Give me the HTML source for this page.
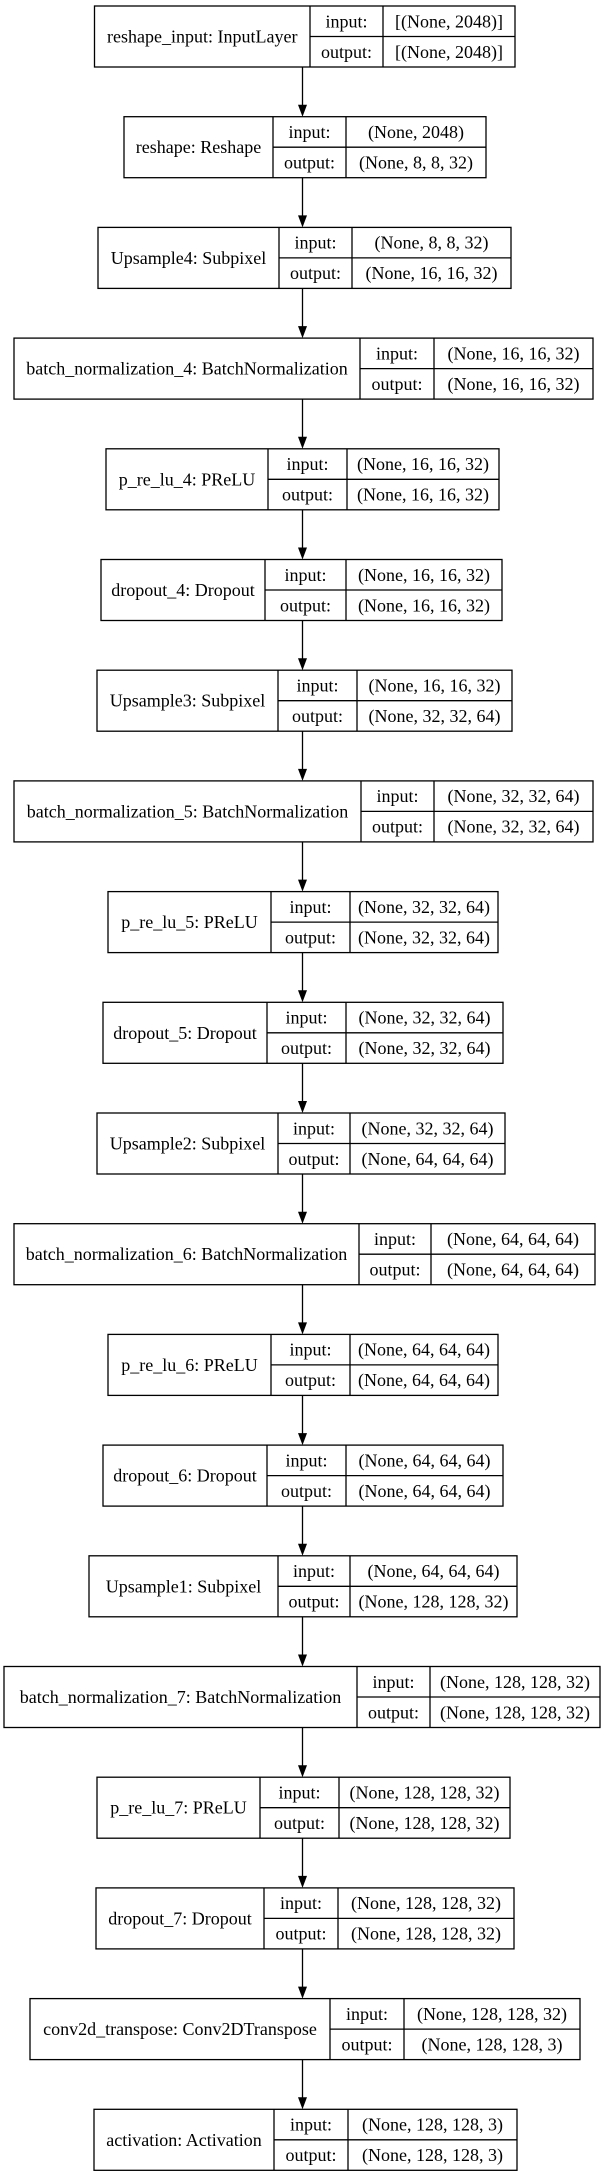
<!DOCTYPE html>
<html><head><meta charset="utf-8"><style>
html,body{margin:0;padding:0;background:#fff;}
svg{display:block;}
text{font-family:"Liberation Serif",serif;font-size:18px;fill:#000;}
</style></head><body>
<svg id="s" width="605" height="2176" xmlns="http://www.w3.org/2000/svg"></svg>
<script>
var boxes=[
["reshape_input: InputLayer","[(None, 2048)]","[(None, 2048)]",94.5,310,383,515],
["reshape: Reshape","(None, 2048)","(None, 8, 8, 32)",124,273,346,486],
["Upsample4: Subpixel","(None, 8, 8, 32)","(None, 16, 16, 32)",98,279,352,511],
["batch_normalization_4: BatchNormalization","(None, 16, 16, 32)","(None, 16, 16, 32)",14,360,434,593],
["p_re_lu_4: PReLU","(None, 16, 16, 32)","(None, 16, 16, 32)",106,268,347,499],
["dropout_4: Dropout","(None, 16, 16, 32)","(None, 16, 16, 32)",101,265,346,502],
["Upsample3: Subpixel","(None, 16, 16, 32)","(None, 32, 32, 64)",97,278,357,512],
["batch_normalization_5: BatchNormalization","(None, 32, 32, 64)","(None, 32, 32, 64)",14,361,434,593],
["p_re_lu_5: PReLU","(None, 32, 32, 64)","(None, 32, 32, 64)",108,271,350,498],
["dropout_5: Dropout","(None, 32, 32, 64)","(None, 32, 32, 64)",103,267,346,503],
["Upsample2: Subpixel","(None, 32, 32, 64)","(None, 64, 64, 64)",97,278,350,505],
["batch_normalization_6: BatchNormalization","(None, 64, 64, 64)","(None, 64, 64, 64)",14,359,431,595],
["p_re_lu_6: PReLU","(None, 64, 64, 64)","(None, 64, 64, 64)",108,271,350,498],
["dropout_6: Dropout","(None, 64, 64, 64)","(None, 64, 64, 64)",103,267,346,503],
["Upsample1: Subpixel","(None, 64, 64, 64)","(None, 128, 128, 32)",89,278,350,517],
["batch_normalization_7: BatchNormalization","(None, 128, 128, 32)","(None, 128, 128, 32)",4,357,430,600],
["p_re_lu_7: PReLU","(None, 128, 128, 32)","(None, 128, 128, 32)",97,260,339,510],
["dropout_7: Dropout","(None, 128, 128, 32)","(None, 128, 128, 32)",96,264,338,514],
["conv2d_transpose: Conv2DTranspose","(None, 128, 128, 32)","(None, 128, 128, 3)",30,330,404,580],
["activation: Activation","(None, 128, 128, 3)","(None, 128, 128, 3)",94,274,348,517]
];
var h='',H=61,P=110.7,cx=302.5;
boxes.forEach(function(b,i){
 var y=6+i*P,m=y+H/2;
 h+='<rect x="'+b[3]+'" y="'+y+'" width="'+(b[6]-b[3])+'" height="'+H+'" fill="none" stroke="#000" stroke-width="1.3"/>';
 h+='<line x1="'+b[4]+'" y1="'+y+'" x2="'+b[4]+'" y2="'+(y+H)+'" stroke="#000" stroke-width="1.3"/>';
 h+='<line x1="'+b[5]+'" y1="'+y+'" x2="'+b[5]+'" y2="'+(y+H)+'" stroke="#000" stroke-width="1.3"/>';
 h+='<line x1="'+b[4]+'" y1="'+m+'" x2="'+b[6]+'" y2="'+m+'" stroke="#000" stroke-width="1.3"/>';
 h+='<text x="'+((b[3]+b[4])/2)+'" y="'+(m+6)+'" text-anchor="middle">'+b[0]+'</text>';
 h+='<text x="'+((b[4]+b[5])/2)+'" y="'+(y+H/4+6)+'" text-anchor="middle">input:</text>';
 h+='<text x="'+((b[4]+b[5])/2)+'" y="'+(y+3*H/4+6)+'" text-anchor="middle">output:</text>';
 h+='<text x="'+((b[5]+b[6])/2)+'" y="'+(y+H/4+6)+'" text-anchor="middle">'+b[1]+'</text>';
 h+='<text x="'+((b[5]+b[6])/2)+'" y="'+(y+3*H/4+6)+'" text-anchor="middle">'+b[2]+'</text>';
 if(i<boxes.length-1){
  var y1=y+H,y2=6+(i+1)*P;
  h+='<line x1="'+cx+'" y1="'+y1+'" x2="'+cx+'" y2="'+(y2-10)+'" stroke="#000" stroke-width="1.3"/>';
  h+='<polygon points="'+(cx-4.5)+','+(y2-12)+' '+(cx+4.5)+','+(y2-12)+' '+cx+','+y2+'" fill="#000"/>';
 }
});
document.getElementById('s').innerHTML=h;
</script>
</body></html>
